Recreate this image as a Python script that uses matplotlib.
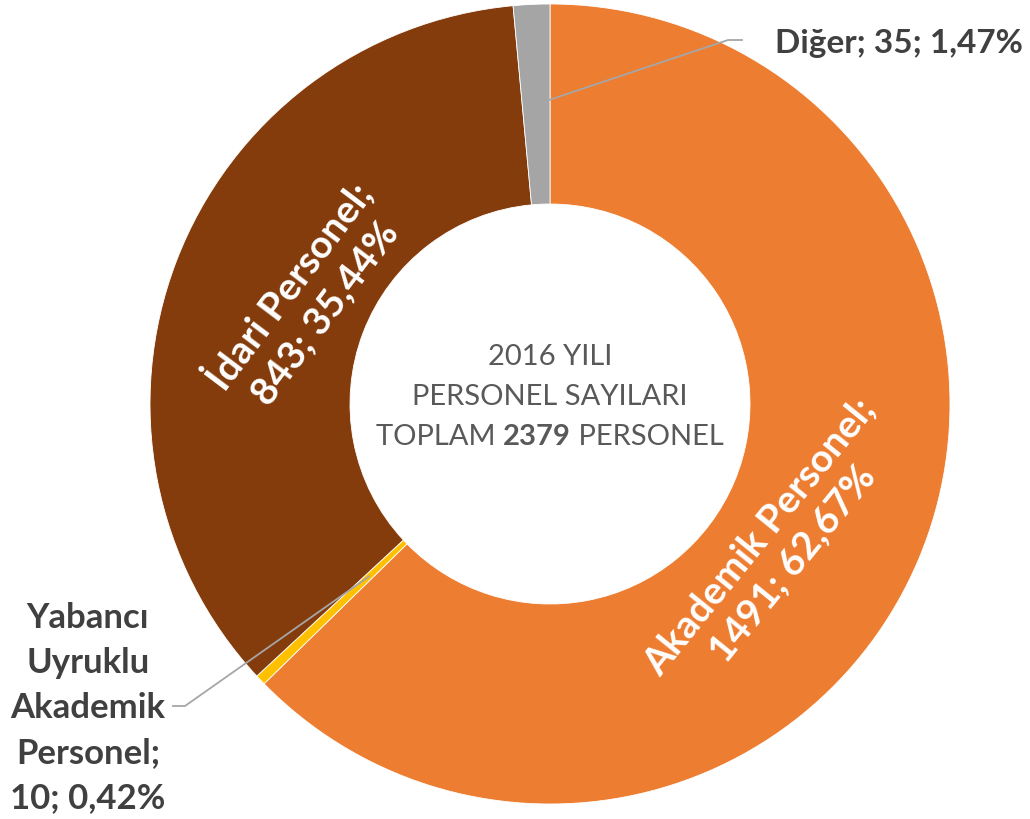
import numpy as np
import matplotlib.pyplot as plt

labels = ['Akademik Personel', 'Yabancı Uyruklu Akademik Personel', 'İdari Personel', 'Diğer']
counts = [1491, 10, 843, 35]
percents = ['62,67%', '0,42%', '35,44%', '1,47%']
colors = ['#ED7D31', '#FFC000', '#843C0C', '#A5A5A5']

plt.rcParams['font.family'] = ['Lato', 'DejaVu Sans']

W, H = 1030, 820
fig = plt.figure(figsize=(W / 100, H / 100), dpi=100)
ax = fig.add_axes([0, 0, 1, 1])


def P(x, y):
    # image pixel coords (y down) -> data coords
    return x, H - y


cx, cy = P(550, 405)
R = 400
wedges, _ = ax.pie(counts, colors=colors, startangle=90, counterclock=False,
                   center=(cx, cy), radius=R, frame=True,
                   wedgeprops=dict(width=200, edgecolor='white', linewidth=0.6))
ax.set_xlim(0, W)
ax.set_ylim(0, H)
ax.set_aspect('equal')
ax.axis('off')

# inside labels
ax.text(*P(776, 550), labels[0] + ';\n' + str(counts[0]) + '; ' + percents[0],
        rotation=51, rotation_mode='anchor', ha='center', va='center',
        color='white', fontsize=28, fontweight='bold', linespacing=1.3)
ax.text(*P(305, 298), labels[2] + ';\n' + str(counts[2]) + '; ' + percents[2],
        rotation=53, rotation_mode='anchor', ha='center', va='center',
        color='white', fontsize=28, fontweight='bold', linespacing=1.3)

# outside labels with leader lines
lc = '#A6A6A6'


def edge_point(w, frac):
    ang = np.deg2rad((w.theta1 + w.theta2) / 2)
    r = R - 200 * frac
    return cx + r * np.cos(ang), cy + r * np.sin(ang)


x0, y0 = edge_point(wedges[3], 0.5)
ax.plot([x0, P(728, 41)[0], P(742, 41)[0]], [y0, P(728, 41)[1], P(742, 41)[1]],
        color=lc, lw=1.3)
ax.text(*P(775, 44), labels[3] + '; ' + str(counts[3]) + '; ' + percents[3],
        ha='left', va='center', color='#404040', fontsize=24, fontweight='bold')

x1, y1 = edge_point(wedges[1], 0.75)
ax.plot([x1, P(185, 707)[0], P(173, 707)[0]], [y1, P(185, 707)[1], P(173, 707)[1]],
        color=lc, lw=1.3)
ax.text(*P(88, 708), 'Yabancı\nUyruklu\nAkademik\nPersonel;\n' + str(counts[1]) + '; ' + percents[1],
        ha='center', va='center', color='#404040', fontsize=25, fontweight='bold',
        linespacing=1.5)

# center text
ctext = '#595959'
fs = 21
ax.text(*P(550, 357), '2016 YILI', ha='center', va='center', color=ctext, fontsize=fs)
ax.text(*P(550, 397), 'PERSONEL SAYILARI', ha='center', va='center', color=ctext, fontsize=fs)
t1 = ax.text(*P(550, 437), 'TOPLAM ', ha='left', va='center', color=ctext, fontsize=fs)
t2 = ax.annotate(str(sum(counts)), xy=(1, 0), xycoords=t1, ha='left', va='bottom',
                 color=ctext, fontsize=fs, fontweight='bold')
t3 = ax.annotate(' PERSONEL', xy=(1, 0), xycoords=t2, ha='left', va='bottom',
                 color=ctext, fontsize=fs)
fig.canvas.draw()
r = fig.canvas.get_renderer()
total = t3.get_window_extent(r).x1 - t1.get_window_extent(r).x0
t1.set_x(550 - total / 2)

fig.savefig('out.png', dpi=100, facecolor='white')
